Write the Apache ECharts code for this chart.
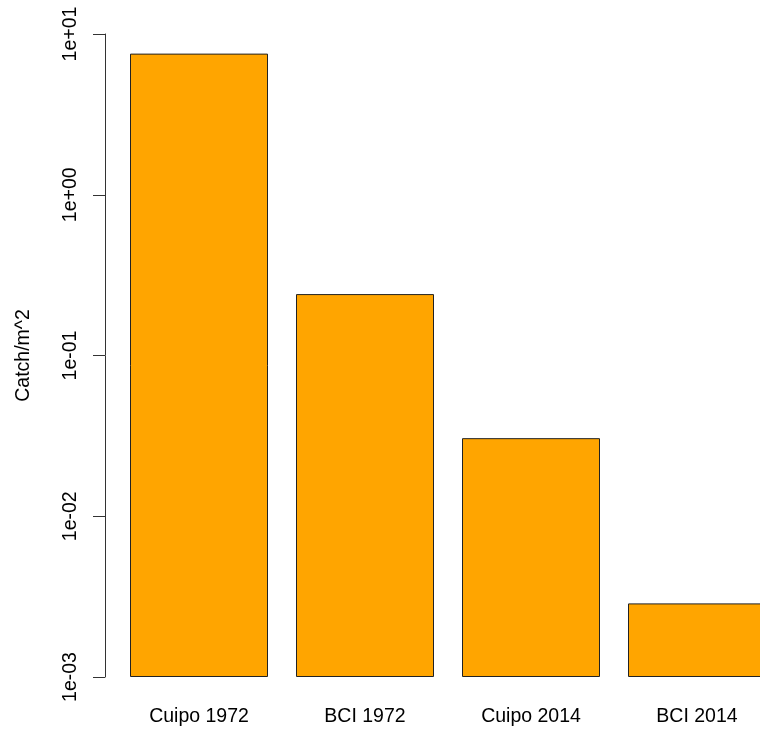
<!DOCTYPE html>
<html>
<head>
<meta charset="utf-8">
<script src="https://cdn.jsdelivr.net/npm/echarts@6/dist/echarts.min.js"></script>
<style>
html,body{margin:0;padding:0;background:#fff;}
#chart{width:760px;height:732px;}
</style>
</head>
<body>
<div id="chart"></div>
<script>
var categories = ['Cuipo 1972', 'BCI 1972', 'Cuipo 2014', 'BCI 2014'];
var catchValues = [7.55, 0.241, 0.0306, 0.00287];
var yTickValues = [0.001, 0.01, 0.1, 1, 10];
var yAxisTitle = 'Catch/m^2';

function fmtExp(v) {
  var e = Math.round(Math.log10(v));
  var s = Math.abs(e) < 10 ? '0' + Math.abs(e) : '' + Math.abs(e);
  return '1e' + (e < 0 ? '-' : '+') + s;
}

var chart = echarts.init(document.getElementById('chart'), null, {renderer: 'canvas'});
chart.setOption({
  animation: false,
  backgroundColor: '#ffffff',
  textStyle: {fontFamily: 'Liberation Sans, Arial, sans-serif'},
  grid: {left: 116, right: -20, top: 34, bottom: 55, containLabel: false, outerBoundsMode: 'none'},
  xAxis: {
    type: 'category',
    data: categories,
    boundaryGap: true,
    axisLine: {show: false},
    axisTick: {show: false},
    axisLabel: {color: '#000', fontSize: 19.5, margin: 30, fontFamily: 'Liberation Sans, Arial, sans-serif'}
  },
  yAxis: {
    type: 'log',
    logBase: 10,
    min: yTickValues[0],
    max: yTickValues[yTickValues.length - 1],
    startValue: yTickValues[0],
    offset: 11,
    name: yAxisTitle,
    nameLocation: 'middle',
    nameGap: 71,
    nameRotate: 90,
    nameTextStyle: {color: '#000', fontSize: 19.5, fontFamily: 'Liberation Sans, Arial, sans-serif'},
    axisLine: {show: true, lineStyle: {color: '#333', width: 1}},
    axisTick: {show: true, inside: false, length: 12, lineStyle: {color: '#333', width: 1}},
    splitLine: {show: false},
    axisLabel: {
      color: '#000', fontSize: 19.5, rotate: 90, margin: 24,
      fontFamily: 'Liberation Sans, Arial, sans-serif',
      formatter: fmtExp
    }
  },
  series: [{
    type: 'bar',
    data: catchValues,
    barWidth: 138,
    itemStyle: {color: '#FFA500', borderColor: '#222', borderWidth: 1}
  }]
});
</script>
</body>
</html>
